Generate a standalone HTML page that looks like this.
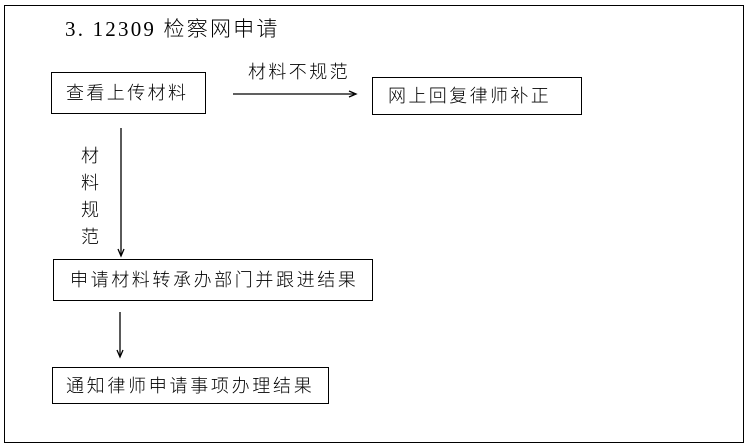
<!DOCTYPE html>
<html><head><meta charset="utf-8"><style>
html,body{margin:0;padding:0;background:#fff;}
body{width:749px;height:447px;position:relative;overflow:hidden;font-family:"Liberation Serif","Noto Sans CJK SC",sans-serif;color:#000;}
.t{position:absolute;font-size:18px;letter-spacing:2.4px;white-space:nowrap;line-height:20px;font-family:"Liberation Sans","Noto Sans CJK SC",sans-serif;font-weight:300;}
.b{position:absolute;border:1.3px solid #000;box-sizing:border-box;}
</style></head><body>
<div class="b" style="left:4px;top:5px;width:740px;height:438px;border-width:1.5px"></div>
<div class="t" style="left:65px;top:18px;font-size:21px;letter-spacing:2.2px;font-family:'Liberation Serif','Noto Sans CJK SC',sans-serif;line-height:23px">3. 12309 检察网申请</div>
<div class="b" style="left:51px;top:72px;width:155px;height:42px"></div>
<div class="t" style="left:66px;top:83px">查看上传材料</div>
<div class="t" style="left:248px;top:62px">材料不规范</div>
<div class="b" style="left:372px;top:77px;width:210px;height:38px"></div>
<div class="t" style="left:388px;top:86px">网上回复律师补正</div>
<div class="t" style="left:81px;top:143px;line-height:27px;width:20px;white-space:normal">材料规范</div>
<div class="b" style="left:53px;top:259px;width:320px;height:42px"></div>
<div class="t" style="left:70px;top:270px;letter-spacing:2.6px">申请材料转承办部门并跟进结果</div>
<div class="b" style="left:52px;top:367px;width:277px;height:37px"></div>
<div class="t" style="left:66px;top:376px;letter-spacing:2.7px">通知律师申请事项办理结果</div>
<svg width="749" height="447" style="position:absolute;left:0;top:0">
<g stroke="#000" stroke-width="1.3" fill="none">
<line x1="233" y1="94" x2="354" y2="94"/>
<polyline points="349,91 356,94 349,97"/>
<line x1="121" y1="128" x2="121" y2="255"/>
<polyline points="118,249 121,256 124,249"/>
<line x1="120" y1="312" x2="120" y2="356"/>
<polyline points="117,350 120,357 123,350"/>
</g></svg>
</body></html>
